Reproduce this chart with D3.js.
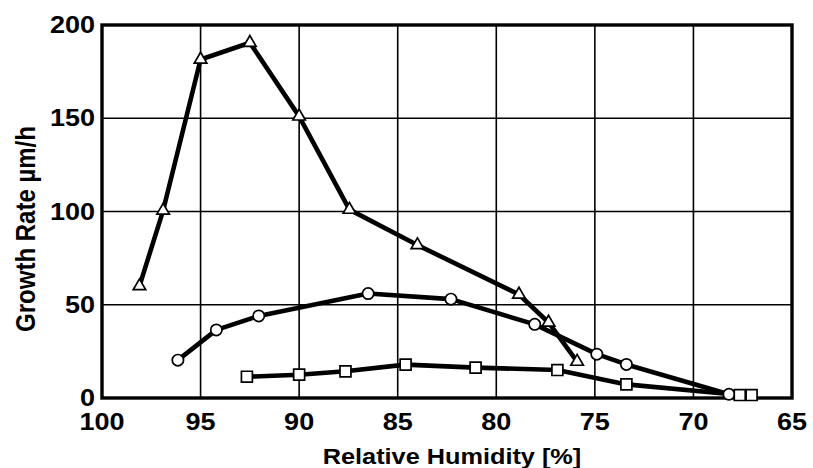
<!DOCTYPE html>
<html>
<head>
<meta charset="utf-8">
<script src="https://cdn.jsdelivr.net/npm/d3@7"></script>
<style>
  html, body { margin: 0; padding: 0; background: #fff; }
  svg { display: block; }
  text { font-family: "Liberation Sans", Arial, sans-serif; font-weight: bold; fill: #000; }
</style>
</head>
<body>
<svg id="chart" width="813" height="468"></svg>
<script>
// ---- data ----
const xTicks = [100, 95, 90, 85, 80, 75, 70, 65];
const yTicks = [0, 50, 100, 150, 200];

const triangleX = [98.1, 96.9, 95.0, 92.5, 90.0, 87.45, 84.0, 78.85, 77.35, 75.9];
const triangleY = [60, 100.5, 181.5, 190.5, 151, 101, 82, 55.5, 40.5, 19.5];

const circleX = [96.15, 94.2, 92.05, 86.5, 82.3, 78.05, 74.9, 73.4, 68.2];
const circleY = [20.3, 36.5, 44, 56, 53, 39.5, 23.5, 18, 2];

const squareX = [92.65, 90.0, 87.65, 84.6, 81.05, 76.9, 73.4, 67.65, 67.05];
const squareY = [11.4, 12.5, 14.3, 17.9, 16.3, 15, 7.3, 1.6, 1.6];

const xTitle = "Relative Humidity [%]";
const yTitle = "Growth Rate µm/h";

// ---- layout ----
const svg = d3.select("#chart");
const mLeft = 102, mRight = 792, mTop = 25, mBottom = 398;
const x = d3.scaleLinear().domain([100, 65]).range([mLeft, mRight]);
const y = d3.scaleLinear().domain([0, 200]).range([mBottom, mTop]);
const stretch = 1.15;

// grid
const grid = svg.append("g").attr("stroke", "#000").attr("stroke-width", 1.6);
grid.selectAll("line.v").data(xTicks.slice(1, -1)).join("line")
  .attr("x1", d => x(d)).attr("x2", d => x(d)).attr("y1", mTop).attr("y2", mBottom);
grid.selectAll("line.h").data(yTicks.slice(1, -1)).join("line")
  .attr("x1", mLeft).attr("x2", mRight).attr("y1", d => y(d)).attr("y2", d => y(d));

// frame
svg.append("rect").attr("x", mLeft).attr("y", mTop)
  .attr("width", mRight - mLeft).attr("height", mBottom - mTop)
  .attr("fill", "none").attr("stroke", "#000").attr("stroke-width", 3.4);

// tick labels
svg.append("g").selectAll("text").data(xTicks).join("text")
  .attr("transform", d => `translate(${x(d)},430) scale(${stretch},1)`)
  .attr("text-anchor", "middle").attr("font-size", 23.5)
  .text(d => d);
svg.append("g").selectAll("text").data(yTicks).join("text")
  .attr("transform", d => `translate(95,${y(d) + 8}) scale(${stretch},1)`)
  .attr("text-anchor", "end").attr("font-size", 23.5)
  .text(d => d);

// axis titles
svg.append("text")
  .attr("transform", `translate(452,464) scale(${stretch},1)`)
  .attr("text-anchor", "middle").attr("font-size", 22)
  .text(xTitle);
svg.append("text")
  .attr("transform", `translate(35,229) scale(${stretch},1) rotate(-90)`)
  .attr("text-anchor", "middle").attr("font-size", 24)
  .text(yTitle);

// series
const series = [
  { xs: triangleX, ys: triangleY, sym: d3.symbolTriangle, size: 68 },
  { xs: circleX, ys: circleY, sym: d3.symbolCircle, size: 100 },
  { xs: squareX, ys: squareY, sym: d3.symbolSquare, size: 120 }
];
const line = d3.line().x(d => x(d[0])).y(d => y(d[1]));

series.forEach(s => {
  const pts = s.xs.map((v, i) => [v, s.ys[i]]);
  svg.append("path").datum(pts).attr("d", line)
    .attr("fill", "none").attr("stroke", "#000").attr("stroke-width", 4.6)
    .attr("stroke-linejoin", "round");
});
series.forEach(s => {
  const pts = s.xs.map((v, i) => [v, s.ys[i]]);
  svg.append("g").selectAll("path").data(pts).join("path")
    .attr("d", d3.symbol().type(s.sym).size(s.size))
    .attr("transform", d => `translate(${x(d[0])},${y(d[1])})`)
    .attr("fill", "#fff").attr("stroke", "#000").attr("stroke-width", 1.7);
});
</script>
</body>
</html>
